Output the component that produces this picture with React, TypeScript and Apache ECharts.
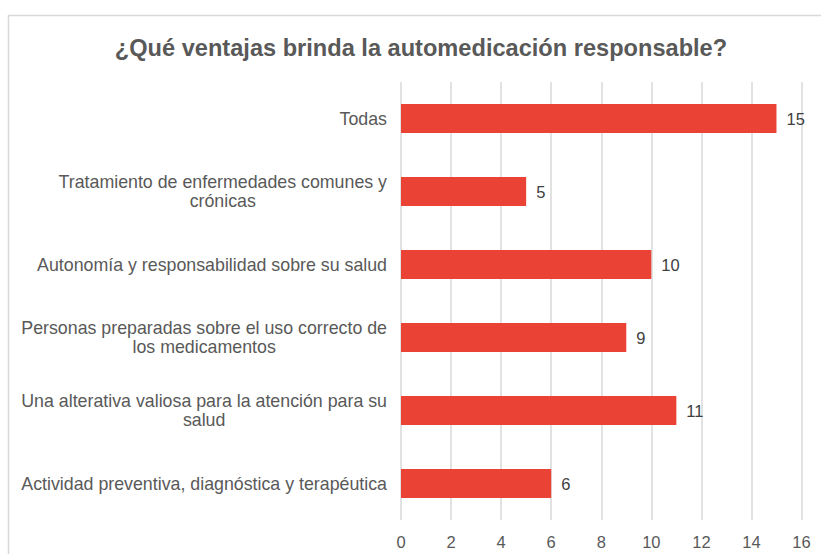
import React, { useEffect, useRef } from "react";
import * as echarts from "echarts";

const titleText = "¿Qué ventajas brinda la automedicación responsable?";
const categories = [
  "Todas",
  "Tratamiento de enfermedades comunes y\ncrónicas",
  "Autonomía y responsabilidad sobre su salud",
  "Personas preparadas sobre el uso correcto de\nlos medicamentos",
  "Una alterativa valiosa para la atención para su\nsalud",
  "Actividad preventiva, diagnóstica y terapéutica",
];
const values = [15, 5, 10, 9, 11, 6];
const xTicks = [0, 2, 4, 6, 8, 10, 12, 14, 16];

const FONT = "Liberation Sans, Arial, sans-serif";

export default function App() {
  const ref = useRef<HTMLDivElement>(null);
  useEffect(() => {
    const chart = echarts.init(ref.current!, null, { renderer: "svg" });
    chart.setOption({
      animation: false,
      textStyle: { fontFamily: FONT },
      title: {
        text: titleText,
        left: 416,
        textAlign: "center",
        top: 31,
        textStyle: { fontSize: 23.6, fontWeight: "bold", color: "#595959", fontFamily: FONT },
      },
      graphic: [
        {
          type: "rect",
          shape: { x: 8.5, y: 15.5, width: 900, height: 700 },
          style: { fill: "none", stroke: "#d9d9d9", lineWidth: 1.5 },
          silent: true,
        },
      ],
      grid: { left: 401, right: 19.5, top: 82, bottom: 34, containLabel: false },
      xAxis: {
        type: "value",
        min: xTicks[0],
        max: xTicks[xTicks.length - 1],
        interval: 2,
        axisLine: { show: false },
        axisTick: { show: false },
        splitLine: { lineStyle: { color: "#d9d9d9", width: 1.5 } },
        axisLabel: { color: "#595959", fontSize: 16.5, margin: 13, fontFamily: FONT },
      },
      yAxis: {
        type: "category",
        inverse: true,
        data: categories,
        axisLine: { show: false },
        axisTick: { show: false },
        axisLabel: {
          margin: 14,
          color: "#595959",
          fontSize: 17.8,
          lineHeight: 19,
          fontFamily: FONT,
          formatter: (v: string) =>
            v
              .split("\n")
              .map((l) => "{c|" + l + "}")
              .join("\n"),
          rich: { c: { align: "center", color: "#595959", fontSize: 17.8, lineHeight: 19, fontFamily: FONT } },
        },
      },
      series: [
        {
          type: "bar",
          data: values,
          barWidth: 29,
          itemStyle: { color: "#EA4335" },
          label: { show: true, position: "right", distance: 10, color: "#404040", fontSize: 16.5, fontFamily: FONT },
        },
      ],
    });
    return () => chart.dispose();
  }, []);
  return <div ref={ref} style={{ width: 821, height: 554, position: "absolute", left: 0, top: 0 }} />;
}
